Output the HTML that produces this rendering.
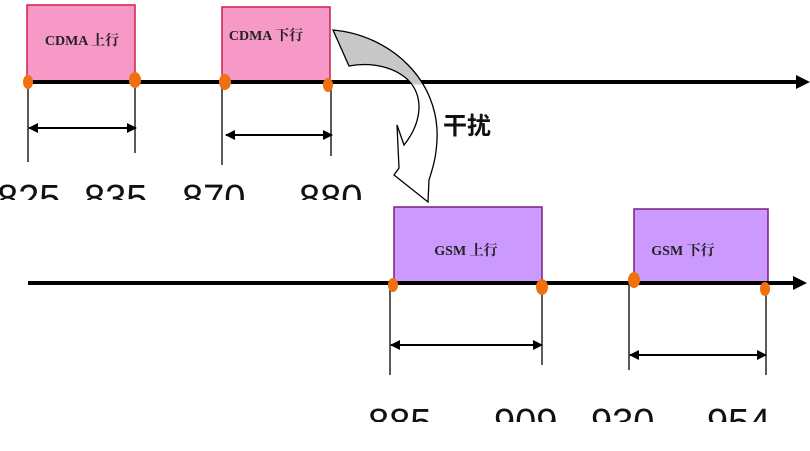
<!DOCTYPE html>
<html><head><meta charset="utf-8"><style>
body{margin:0;background:#fff;width:810px;height:451px;overflow:hidden;position:relative}
.n{position:absolute;font-family:"Liberation Sans",sans-serif;font-size:38px;color:#111;overflow:hidden;line-height:40px}
</style></head><body>
<svg width="810" height="451" style="position:absolute;left:0;top:0">
<defs>
<linearGradient id="g" gradientUnits="userSpaceOnUse" x1="0" y1="0" x2="0" y2="451">
<stop offset="0" stop-color="#c8c8c8"/><stop offset="0.185" stop-color="#c8c8c8"/><stop offset="0.19" stop-color="#fff"/><stop offset="1" stop-color="#fff"/></linearGradient>
<marker id="a" markerWidth="10" markerHeight="10" refX="9" refY="5" orient="auto-start-reverse" markerUnits="userSpaceOnUse"><path d="M0,0 L10,5 L0,10 Z" fill="#000"/></marker>
</defs>
<rect x="27" y="5" width="108" height="77" fill="#f799c6" stroke="#d0204a" stroke-width="1.5"/>
<rect x="222" y="7" width="108" height="75" fill="#f799c6" stroke="#d0204a" stroke-width="1.5"/>
<rect x="394" y="207" width="148" height="76" fill="#cc99ff" stroke="#7a2080" stroke-width="1.5"/>
<rect x="634" y="209" width="134" height="74" fill="#cc99ff" stroke="#7a2080" stroke-width="1.5"/>
<line x1="25" y1="82" x2="800" y2="82" stroke="#000" stroke-width="4"/>
<path d="M796,75 L810,82 L796,89 Z"/>
<line x1="28" y1="283" x2="796" y2="283" stroke="#000" stroke-width="4"/>
<path d="M793,276 L807,283 L793,290 Z"/>
<g stroke="#000" stroke-width="1.3">
<line x1="28" y1="82" x2="28" y2="162"/><line x1="135" y1="82" x2="135" y2="153"/>
<line x1="222" y1="82" x2="222" y2="165"/><line x1="331" y1="82" x2="331" y2="156"/>
<line x1="390" y1="285" x2="390" y2="375"/><line x1="542" y1="285" x2="542" y2="365"/>
<line x1="629" y1="285" x2="629" y2="370"/><line x1="766" y1="285" x2="766" y2="375"/>
<line x1="29" y1="128" x2="136" y2="128" stroke-width="2" marker-start="url(#a)" marker-end="url(#a)"/>
<line x1="226" y1="135" x2="332" y2="135" stroke-width="2" marker-start="url(#a)" marker-end="url(#a)"/>
<line x1="391" y1="345" x2="542" y2="345" stroke-width="2" marker-start="url(#a)" marker-end="url(#a)"/>
<line x1="630" y1="355" x2="766" y2="355" stroke-width="2" marker-start="url(#a)" marker-end="url(#a)"/>
</g>
<path d="M333,30 C390,35 440,80 437,140 C436,160 432,170 429,180 L428,202 L394,175 L399,168 L397,125 L404,145 C420,125 425,100 410,82 C395,66 370,62 349,66 Z" fill="url(#g)" stroke="#000" stroke-width="1.3"/>
<g fill="#f07010">
<ellipse cx="28" cy="82" rx="5" ry="7"/><ellipse cx="135" cy="80" rx="6" ry="8"/>
<ellipse cx="225" cy="82" rx="6" ry="8"/><ellipse cx="328" cy="85" rx="5" ry="7"/>
<ellipse cx="393" cy="285" rx="5" ry="7"/><ellipse cx="542" cy="287" rx="6" ry="8"/>
<ellipse cx="634" cy="280" rx="6" ry="8"/><ellipse cx="765" cy="289" rx="5" ry="7"/>
</g>
<g font-family="Liberation Serif,'Noto Serif CJK SC',serif" font-weight="bold" font-size="14" fill="#222" text-anchor="middle">
<text x="82" y="45">CDMA 上行</text>
<text x="266" y="40">CDMA 下行</text>
<text x="466" y="255">GSM 上行</text>
<text x="683" y="255">GSM 下行</text>
</g>
<text x="443" y="134" font-family="'Noto Sans CJK SC',sans-serif" font-weight="bold" font-size="24" fill="#111">干扰</text>
</svg>
<div class="n" style="left:-3px;top:179px;height:21px">825</div>
<div class="n" style="left:84px;top:179px;height:21px">835</div>
<div class="n" style="left:182px;top:179px;height:21px">870</div>
<div class="n" style="left:299px;top:179px;height:21px">880</div>
<div class="n" style="left:368px;top:403px;height:19px">885</div>
<div class="n" style="left:494px;top:403px;height:19px">909</div>
<div class="n" style="left:591px;top:403px;height:19px">930</div>
<div class="n" style="left:707px;top:403px;height:19px">954</div>
</body></html>
